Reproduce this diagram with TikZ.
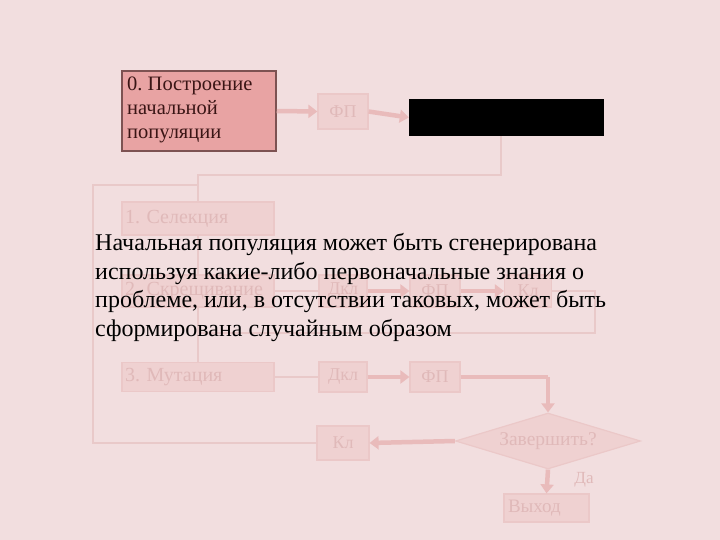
\documentclass[tikz,border=0pt]{standalone}
\usepackage{fontspec}
\setmainfont{Liberation Serif}
\usetikzlibrary{shapes.geometric,arrows.meta}
\frenchspacing
\definecolor{bgc}{HTML}{F2DEDF}
\definecolor{fboxfill}{HTML}{EFD1D1}
\definecolor{fboxdraw}{HTML}{EBC8C8}
\definecolor{ftext}{HTML}{E0B9B9}
\definecolor{fline}{HTML}{E9C9C9}
\definecolor{farrow}{HTML}{E9BBBB}
\definecolor{mainfill}{HTML}{E8A3A3}
\definecolor{maindraw}{HTML}{7D5252}
\definecolor{maintext}{HTML}{3A1515}
\tikzset{
  fbox/.style={draw=fboxdraw, fill=fboxfill, line width=1.2pt, text=ftext, inner sep=0pt, font=\fontsize{18}{20}\selectfont},
  fwide/.style={fbox, minimum width=152, text width=146, align=left, font=\fontsize{20}{22}\selectfont},
  fthin/.style={draw=fline, line width=1.5pt},
  fthick/.style={draw=farrow, line width=4.5pt, -{Triangle[length=9pt,width=13pt]}},
  fthickline/.style={draw=farrow, line width=4.5pt},
  maintxt/.style={anchor=base west, inner sep=0pt, font=\fontsize{24}{28}\selectfont, text=black},
}
\begin{document}
\begin{tikzpicture}[x=1pt,y=-1pt]
\fill[bgc] (0,0) rectangle (720,540);
\useasboundingbox (0,0) rectangle (720,540);
% faded flowchart
\node[fbox, minimum width=50, minimum height=35] (fp1) at (343,111.5) {ФП};
\node[fill=black, minimum width=195, minimum height=37, inner sep=0pt] (blk) at (506.5,117.5) {};
\node[fwide, minimum height=33] (sel) at (198,218.5) {1. Селекция};
\node[fwide, minimum height=32] (crs) at (198,291) {2. Скрещивание};
\node[fbox, minimum width=48, minimum height=32] (dk2) at (343,291) {Дкл};
\node[fbox, minimum width=50, minimum height=32] (fp2) at (435,291) {ФП};
\node[fbox, minimum width=47, minimum height=32] (kl2) at (528,291) {Кл};
\node[fwide, minimum height=29] (mut) at (198,377) {3. Мутация};
\node[fbox, minimum width=48, minimum height=30] (dk3) at (343,377) {Дкл};
\node[fbox, minimum width=50, minimum height=30] (fp3) at (435,377) {ФП};
\node[fbox, diamond, aspect=3.3, minimum width=185, minimum height=56, inner sep=0pt, font=\fontsize{19.5}{21}\selectfont] (dec) at (548,441) {Завершить?};
\node[fbox, minimum width=52, minimum height=34] (kl) at (343,443) {Кл};
\node[fbox, minimum width=85, minimum height=28, text width=77, align=left, font=\fontsize{19}{21}\selectfont] (ext) at (546.5,508) {Выход};
\node[anchor=base, inner sep=0pt, text=ftext, font=\fontsize{17}{18}\selectfont] (da) at (584,483) {Да};
\coordinate (c1) at (501,175);
\coordinate (c2) at (198,175);
\coordinate (l1) at (93,443);
\coordinate (l2) at (93,185);
\coordinate (l3) at (198,185);
\coordinate (r1) at (595,291);
\coordinate (r2) at (595,333);
\coordinate (r3) at (198,333);
\coordinate (d1) at (548,377);
% thin connectors
\draw[fthin] (blk.south -| c1) -- (c1) -- (c2) -- (sel.north);
\draw[fthin] (sel.south) -- (crs.north);
\draw[fthin] (crs.south) -- (mut.north);
\draw[fthin] (crs.east) -- (dk2.west);
\draw[fthin] (mut.east) -- (dk3.west);
\draw[fthin] (kl.west) -- (l1) -- (l2) -- (l3);
\draw[fthin] (kl2.east) -- (r1) -- (r2) -- (r3);
% thick arrows
\draw[fthick] (fp1.east) -- (blk.west);
\draw[fthick] (dk2.east) -- (fp2.west);
\draw[fthick] (fp2.east) -- (kl2.west);
\draw[fthick] (dk3.east) -- (fp3.west);
\draw[fthickline] (fp3.east) -- (d1);
\draw[fthick] (d1) -- (dec.north);
\draw[fthick] (dec.west) -- (kl.east);
\draw[fthick] (dec.south) -- (ext.north);
% highlighted node
\node[draw=maindraw, fill=mainfill, line width=1.5pt, minimum width=154, minimum height=80, inner sep=0pt] (n0) at (199,111) {};
\node[anchor=north west, inner sep=0pt, align=left, text=maintext, font=\fontsize{20.5}{24}\selectfont] (n0t) at (127,77) {0. Построение\\начальной\\популяции};
\draw[fthick] (n0.east) -- (fp1.west);
% main text
\node[maintxt] (t1) at (95,251) {Начальная популяция может быть сгенерирована};
\node[maintxt] (t2) at (95,279.5) {используя какие-либо первоначальные знания о};
\node[maintxt] (t3) at (95,307.5) {проблеме, или, в отсутствии таковых, может быть};
\node[maintxt] (t4) at (95,336) {сформирована случайным образом};
\end{tikzpicture}
\end{document}
